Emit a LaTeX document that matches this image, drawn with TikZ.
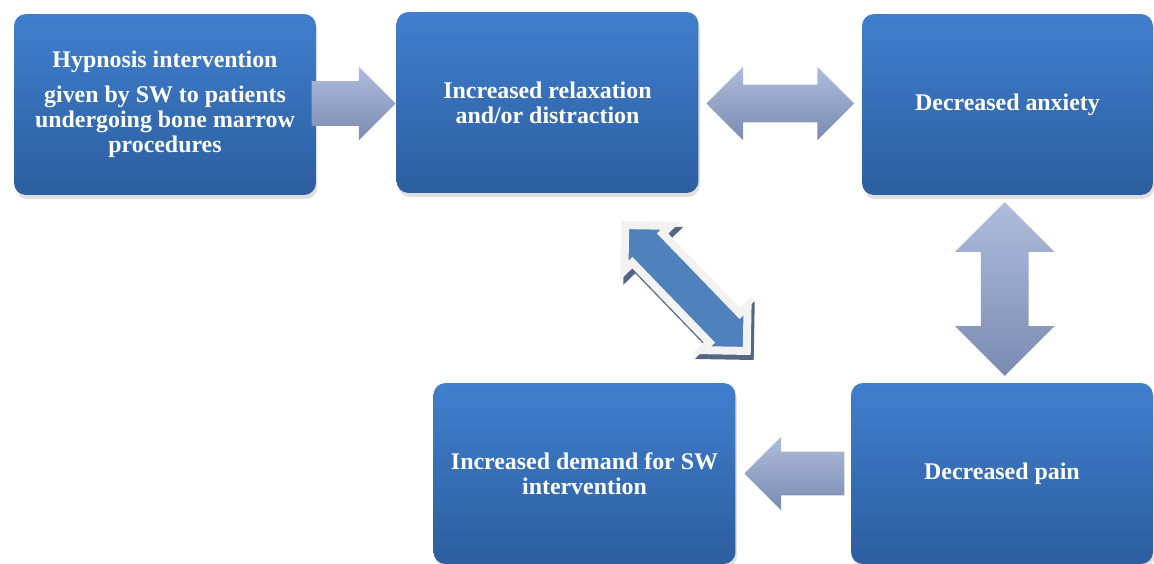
\documentclass[tikz,border=0pt]{standalone}
\usepackage{fontspec}
\setmainfont{Liberation Serif}
\usetikzlibrary{positioning,calc,shapes.arrows,shadows}
\definecolor{SwBoxTop}{RGB}{64,127,205}
\definecolor{SwBoxBottom}{RGB}{44,94,160}
\definecolor{SwArrowTop}{RGB}{174,189,220}
\definecolor{SwArrowBottom}{RGB}{122,139,178}
\definecolor{SwLink}{RGB}{79,129,189}
\definecolor{SwLinkEdge}{RGB}{242,242,242}
\definecolor{SwLinkShadow}{RGB}{84,102,130}

\begin{document}
\begin{tikzpicture}[
    x=0.02cm,y=-0.02cm,
    box/.style={rounded corners=0.24cm,minimum width=6.04cm,minimum height=3.62cm,align=center,top color=SwBoxTop,bottom color=SwBoxBottom,text=white,font=\bfseries\fontsize{13.6}{14.2}\selectfont,drop shadow={shadow xshift=0.03cm,shadow yshift=-0.08cm,opacity=0.25}},
    blockarrow/.style={inner xsep=0pt,top color=SwArrowTop,bottom color=SwArrowBottom},
    onearrow/.style={blockarrow,single arrow,single arrow tip angle=90},
    twoarrow/.style={blockarrow,double arrow,double arrow tip angle=90},
    linkarrow/.style={double arrow,double arrow tip angle=90,inner xsep=0pt,fill=SwLink,draw=SwLinkEdge,line width=0.16cm,drop shadow={shadow xshift=0.06cm,shadow yshift=-0.1cm,fill=SwLinkShadow,draw=SwLinkShadow,opacity=1}}
  ]
    \useasboundingbox (0,0) rectangle (1154,564);
    \node[box] (hyp) at (165,104.5) {Hypnosis intervention\\[5.7pt] given by SW to patients\\ undergoing bone marrow\\ procedures};
    \node[box] (relax) at (547.5,102.5) {Increased relaxation\\ and/or distraction};
    \node[box,minimum width=5.82cm] (anx) at (1007.5,104.5) {Decreased anxiety};
    \node[box] (demand) at (584.5,473.5) {Increased demand for SW\\ intervention};
    \node[box] (pain) at (1002,473.5) {Decreased pain};
    \node[onearrow,anchor=tip,minimum height=1.68cm,inner ysep=0.44cm,single arrow head extend=0.29cm] (hypto) at ([yshift=-0.02cm]relax.west) {};
    \node[twoarrow,minimum height=2.96cm,inner ysep=0.37cm,double arrow head extend=0.36cm] (relaxanx) at ($(relax.east)!0.5!(anx.west)$) {};
    \node[twoarrow,shape border rotate=90,minimum height=3.48cm,inner xsep=0.47cm,inner ysep=0pt,double arrow head extend=0.52cm] (anxpain) at ($(anx.south)!0.5!(pain.north)$) {};
    \node[onearrow,shape border rotate=180,anchor=tail,minimum height=2.0cm,inner ysep=0.43cm,single arrow head extend=0.30cm] (paindemand) at ([xshift=-0.12cm]pain.west) {};
    \node[linkarrow,rotate=-46,minimum height=3.5cm,inner ysep=0.34cm,double arrow head extend=0.22cm] (relaxdemand) at ($($(relax.south)!0.5!(demand.north)$)+(120,0)$) {};
  \end{tikzpicture}
\end{document}
